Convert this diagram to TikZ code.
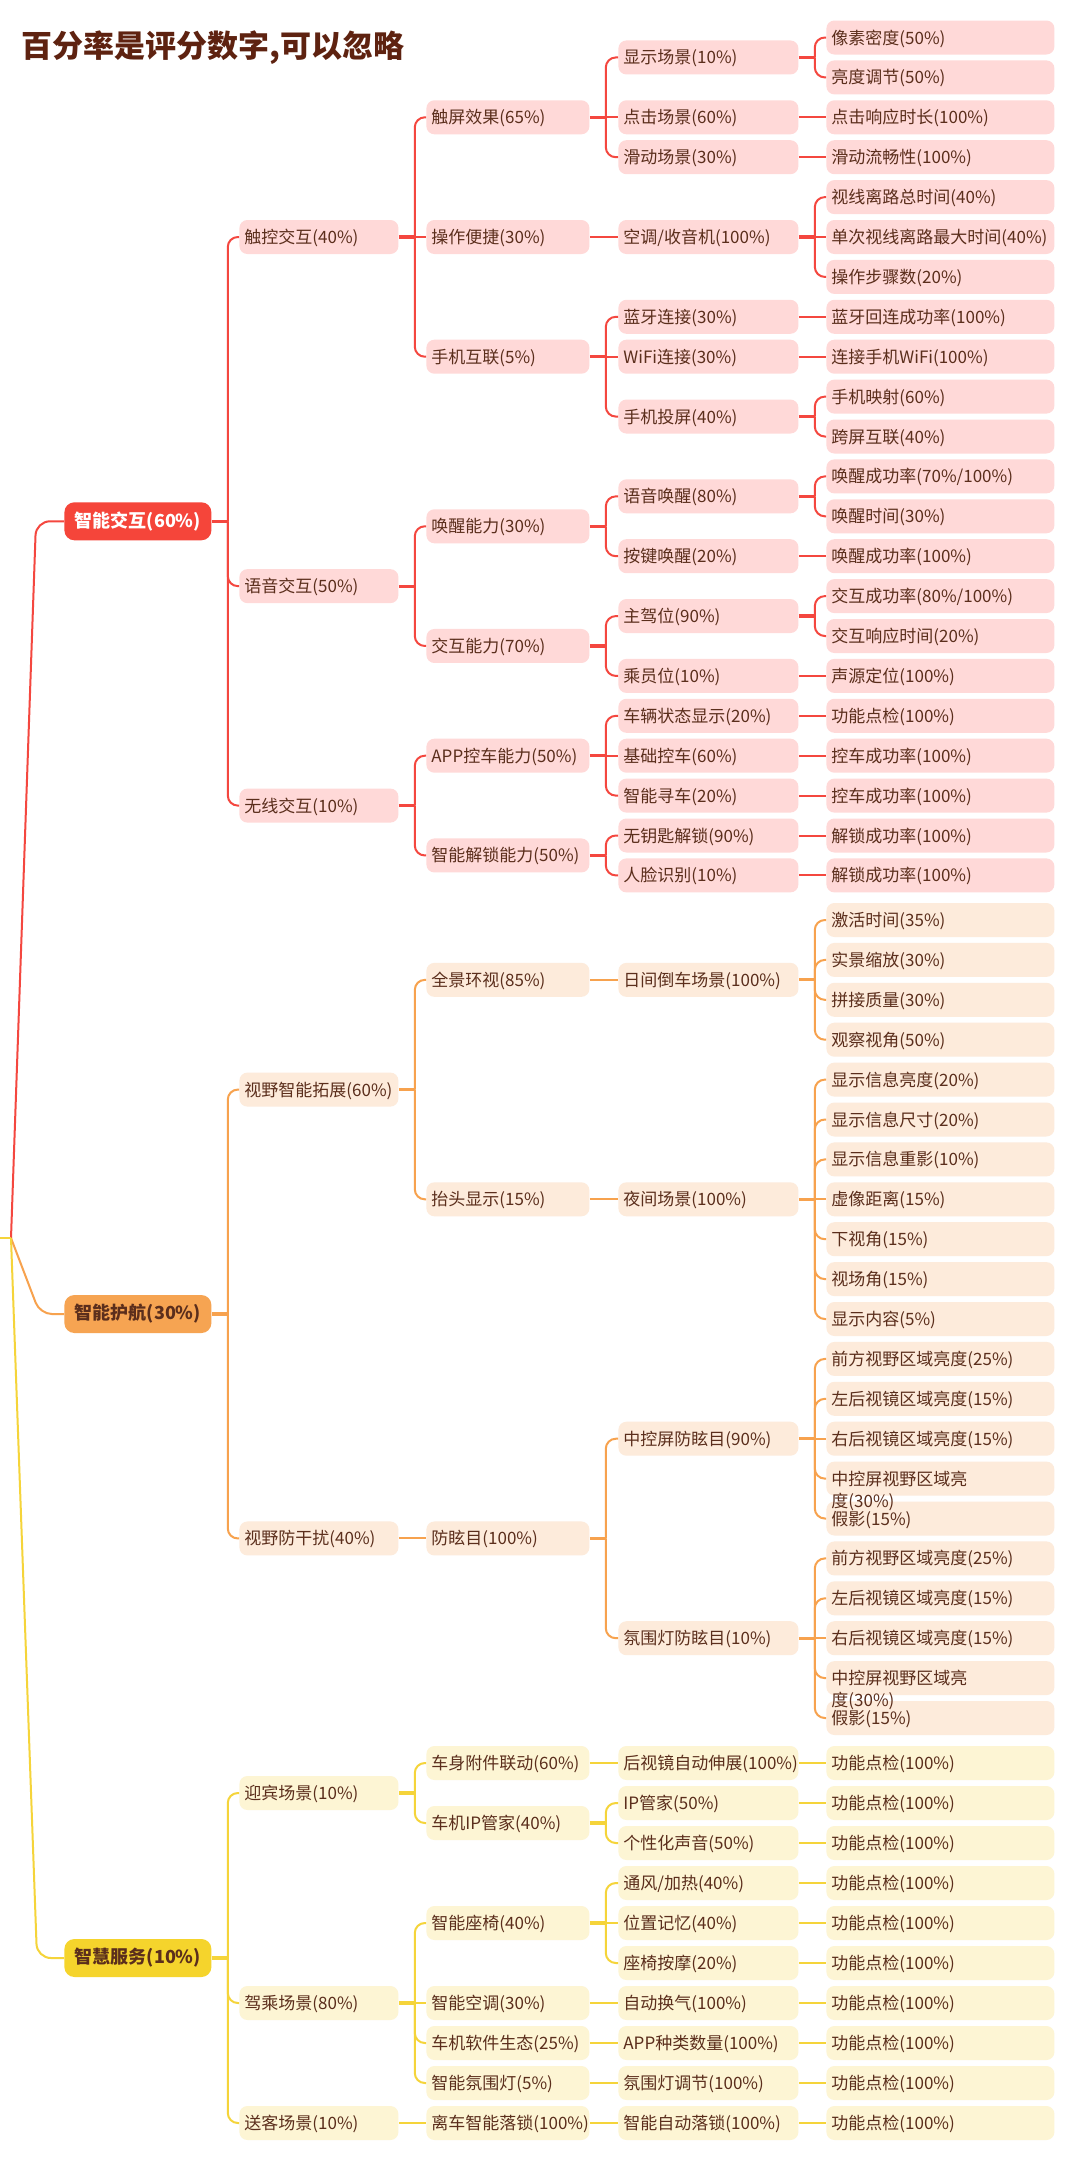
\documentclass[tikz,border=0pt]{standalone}
\usepackage{fontspec}
\setmainfont{Noto Sans CJK SC}
\definecolor{redD}{HTML}{F5453A}
\definecolor{redL}{HTML}{FFD9D8}
\definecolor{orgD}{HTML}{F6A452}
\definecolor{orgL}{HTML}{FDEBDB}
\definecolor{yelD}{HTML}{F5D42C}
\definecolor{yelL}{HTML}{FDF5D4}
\definecolor{lineR}{HTML}{F4473F}
\definecolor{lineO}{HTML}{F7A24E}
\definecolor{lineY}{HTML}{F5D43A}
\definecolor{txt}{HTML}{5B2E1C}
\definecolor{titleC}{HTML}{5E2210}
\newcommand\RowR[1]{37.5+39.9*#1}
\newcommand\RowO[1]{920+39.9*#1}
\newcommand\RowY[1]{1763+40*#1}
\newcommand\mmfan[3]{%
  \draw[#1, line width=1.6pt] (#2.east) -- ++(16,0) coordinate (#2sp);
  \foreach \kid in {#3}{\draw[#1, rounded corners=5pt] (#2sp) |- (\kid.west);}%
}
\newcommand\mmfanB[4]{\mmfan{#1}{#2}{#3}\draw[#1] (#2sp) -- (#4.west);}
\newcommand\mmlink[3]{\draw[#1] (#2.east) -- (#3.west);}
\begin{document}
\begin{tikzpicture}[x=0.5pt,y=-0.5pt,
  bx/.style={rectangle, rounded corners=4pt, anchor=west, inner xsep=2.5pt, inner ysep=0pt,
    minimum height=17pt, align=left, text height=7.5pt, text depth=1pt,
    font=\fontsize{8.5}{11}\selectfont, text=txt},
  wtwo/.style={bx, text width=74.5pt},
  wthree/.style={bx, text width=76.5pt},
  wfour/.style={bx, text width=85pt},
  wfive/.style={bx, text width=109pt},
  fR/.style={fill=redL}, fO/.style={fill=orgL}, fY/.style={fill=yelL},
  lvlone/.style={rectangle, rounded corners=5pt, anchor=west, minimum width=73.5pt,
    minimum height=19pt, inner sep=0pt, font=\fontsize{9}{11}\selectfont\bfseries},
  cR/.style={draw=lineR, line width=1pt},
  cO/.style={draw=lineO, line width=1pt},
  cY/.style={draw=lineY, line width=1pt}]
\fill[white] (0,0) rectangle (1080,2159);
\useasboundingbox (0,0) rectangle (1080,2159);

\node[anchor=west, inner sep=0pt, font=\fontsize{15.5}{19}\selectfont\bfseries, text=titleC] (title) at (21,48) {百分率是评分数字,可以忽略};

% ================= red branch =================
\node[lvlone, fill=redD, text=white] (a) at (64,{\RowR{12.125}}) {智能交互(60\%)};
\node[wtwo,fR] (a1) at (239,{\RowR{5}}) {触控交互(40\%)};
\node[wtwo,fR] (a2) at (239,{\RowR{13.75}}) {语音交互(50\%)};
\node[wtwo,fR] (a3) at (239,{\RowR{19.25}}) {无线交互(10\%)};
\node[wthree,fR] (a11) at (426,{\RowR{2}}) {触屏效果(65\%)};
\node[wthree,fR] (a12) at (426,{\RowR{5}}) {操作便捷(30\%)};
\node[wthree,fR] (a13) at (426,{\RowR{8}}) {手机互联(5\%)};
\node[wthree,fR] (a21) at (426,{\RowR{12.25}}) {唤醒能力(30\%)};
\node[wthree,fR] (a22) at (426,{\RowR{15.25}}) {交互能力(70\%)};
\node[wthree,fR] (a31) at (426,{\RowR{18}}) {APP控车能力(50\%)};
\node[wthree,fR] (a32) at (426,{\RowR{20.5}}) {智能解锁能力(50\%)};
\node[wfour,fR] (a111) at (618,{\RowR{0.5}}) {显示场景(10\%)};
\node[wfour,fR] (a112) at (618,{\RowR{2}}) {点击场景(60\%)};
\node[wfour,fR] (a113) at (618,{\RowR{3}}) {滑动场景(30\%)};
\node[wfour,fR] (a121) at (618,{\RowR{5}}) {空调/收音机(100\%)};
\node[wfour,fR] (a131) at (618,{\RowR{7}}) {蓝牙连接(30\%)};
\node[wfour,fR] (a132) at (618,{\RowR{8}}) {WiFi连接(30\%)};
\node[wfour,fR] (a133) at (618,{\RowR{9.5}}) {手机投屏(40\%)};
\node[wfour,fR] (a211) at (618,{\RowR{11.5}}) {语音唤醒(80\%)};
\node[wfour,fR] (a212) at (618,{\RowR{13}}) {按键唤醒(20\%)};
\node[wfour,fR] (a221) at (618,{\RowR{14.5}}) {主驾位(90\%)};
\node[wfour,fR] (a222) at (618,{\RowR{16}}) {乘员位(10\%)};
\node[wfour,fR] (a311) at (618,{\RowR{17}}) {车辆状态显示(20\%)};
\node[wfour,fR] (a312) at (618,{\RowR{18}}) {基础控车(60\%)};
\node[wfour,fR] (a313) at (618,{\RowR{19}}) {智能寻车(20\%)};
\node[wfour,fR] (a321) at (618,{\RowR{20}}) {无钥匙解锁(90\%)};
\node[wfour,fR] (a322) at (618,{\RowR{21}}) {人脸识别(10\%)};
\node[wfive,fR] (l0) at (826,{\RowR{0}}) {像素密度(50\%)};
\node[wfive,fR] (l1) at (826,{\RowR{1}}) {亮度调节(50\%)};
\node[wfive,fR] (l2) at (826,{\RowR{2}}) {点击响应时长(100\%)};
\node[wfive,fR] (l3) at (826,{\RowR{3}}) {滑动流畅性(100\%)};
\node[wfive,fR] (l4) at (826,{\RowR{4}}) {视线离路总时间(40\%)};
\node[wfive,fR] (l5) at (826,{\RowR{5}}) {单次视线离路最大时间(40\%)};
\node[wfive,fR] (l6) at (826,{\RowR{6}}) {操作步骤数(20\%)};
\node[wfive,fR] (l7) at (826,{\RowR{7}}) {蓝牙回连成功率(100\%)};
\node[wfive,fR] (l8) at (826,{\RowR{8}}) {连接手机WiFi(100\%)};
\node[wfive,fR] (l9) at (826,{\RowR{9}}) {手机映射(60\%)};
\node[wfive,fR] (l10) at (826,{\RowR{10}}) {跨屏互联(40\%)};
\node[wfive,fR] (l11) at (826,{\RowR{11}}) {唤醒成功率(70\%/100\%)};
\node[wfive,fR] (l12) at (826,{\RowR{12}}) {唤醒时间(30\%)};
\node[wfive,fR] (l13) at (826,{\RowR{13}}) {唤醒成功率(100\%)};
\node[wfive,fR] (l14) at (826,{\RowR{14}}) {交互成功率(80\%/100\%)};
\node[wfive,fR] (l15) at (826,{\RowR{15}}) {交互响应时间(20\%)};
\node[wfive,fR] (l16) at (826,{\RowR{16}}) {声源定位(100\%)};
\node[wfive,fR] (l17) at (826,{\RowR{17}}) {功能点检(100\%)};
\node[wfive,fR] (l18) at (826,{\RowR{18}}) {控车成功率(100\%)};
\node[wfive,fR] (l19) at (826,{\RowR{19}}) {控车成功率(100\%)};
\node[wfive,fR] (l20) at (826,{\RowR{20}}) {解锁成功率(100\%)};
\node[wfive,fR] (l21) at (826,{\RowR{21}}) {解锁成功率(100\%)};

\mmfan{cR}{a}{a1,a2,a3}
\mmfanB{cR}{a1}{a11,a13}{a12}
\mmfanB{cR}{a11}{a111,a113}{a112}
\mmfan{cR}{a111}{l0,l1}
\mmlink{cR}{a112}{l2}
\mmlink{cR}{a113}{l3}
\mmlink{cR}{a12}{a121}
\mmfanB{cR}{a121}{l4,l6}{l5}
\mmfanB{cR}{a13}{a131,a133}{a132}
\mmlink{cR}{a131}{l7}
\mmlink{cR}{a132}{l8}
\mmfan{cR}{a133}{l9,l10}
\mmfan{cR}{a2}{a21,a22}
\mmfan{cR}{a21}{a211,a212}
\mmfan{cR}{a211}{l11,l12}
\mmlink{cR}{a212}{l13}
\mmfan{cR}{a22}{a221,a222}
\mmfan{cR}{a221}{l14,l15}
\mmlink{cR}{a222}{l16}
\mmfan{cR}{a3}{a31,a32}
\mmfanB{cR}{a31}{a311,a313}{a312}
\mmlink{cR}{a311}{l17}
\mmlink{cR}{a312}{l18}
\mmlink{cR}{a313}{l19}
\mmfan{cR}{a32}{a321,a322}
\mmlink{cR}{a321}{l20}
\mmlink{cR}{a322}{l21}

% ================= orange branch =================
\node[lvlone, fill=orgD, text=txt] (b) at (64,{\RowO{9.875}}) {智能护航(30\%)};
\node[wtwo,fO] (b1) at (239,{\RowO{4.25}}) {视野智能拓展(60\%)};
\node[wtwo,fO] (b2) at (239,{\RowO{15.5}}) {视野防干扰(40\%)};
\node[wthree,fO] (b11) at (426,{\RowO{1.5}}) {全景环视(85\%)};
\node[wthree,fO] (b12) at (426,{\RowO{7}}) {抬头显示(15\%)};
\node[wthree,fO] (b21) at (426,{\RowO{15.5}}) {防眩目(100\%)};
\node[wfour,fO] (b111) at (618,{\RowO{1.5}}) {日间倒车场景(100\%)};
\node[wfour,fO] (b121) at (618,{\RowO{7}}) {夜间场景(100\%)};
\node[wfour,fO] (b211) at (618,{\RowO{13}}) {中控屏防眩目(90\%)};
\node[wfour,fO] (b212) at (618,{\RowO{18}}) {氛围灯防眩目(10\%)};
\node[wfive,fO] (m0) at (826,{\RowO{0}}) {激活时间(35\%)};
\node[wfive,fO] (m1) at (826,{\RowO{1}}) {实景缩放(30\%)};
\node[wfive,fO] (m2) at (826,{\RowO{2}}) {拼接质量(30\%)};
\node[wfive,fO] (m3) at (826,{\RowO{3}}) {观察视角(50\%)};
\node[wfive,fO] (m4) at (826,{\RowO{4}}) {显示信息亮度(20\%)};
\node[wfive,fO] (m5) at (826,{\RowO{5}}) {显示信息尺寸(20\%)};
\node[wfive,fO] (m6) at (826,{\RowO{6}}) {显示信息重影(10\%)};
\node[wfive,fO] (m7) at (826,{\RowO{7}}) {虚像距离(15\%)};
\node[wfive,fO] (m8) at (826,{\RowO{8}}) {下视角(15\%)};
\node[wfive,fO] (m9) at (826,{\RowO{9}}) {视场角(15\%)};
\node[wfive,fO] (m10) at (826,{\RowO{10}}) {显示内容(5\%)};
\node[wfive,fO] (m11) at (826,{\RowO{11}}) {前方视野区域亮度(25\%)};
\node[wfive,fO] (m12) at (826,{\RowO{12}}) {左后视镜区域亮度(15\%)};
\node[wfive,fO] (m13) at (826,{\RowO{13}}) {右后视镜区域亮度(15\%)};
\node[wfive,fO] (m15) at (826,{\RowO{15}}) {假影(15\%)};
\node[wfive,fO] (m14) at (826,{\RowO{14}}) {中控屏视野区域亮\\度(30\%)};
\node[wfive,fO] (m16) at (826,{\RowO{16}}) {前方视野区域亮度(25\%)};
\node[wfive,fO] (m17) at (826,{\RowO{17}}) {左后视镜区域亮度(15\%)};
\node[wfive,fO] (m18) at (826,{\RowO{18}}) {右后视镜区域亮度(15\%)};
\node[wfive,fO] (m20) at (826,{\RowO{20}}) {假影(15\%)};
\node[wfive,fO] (m19) at (826,{\RowO{19}}) {中控屏视野区域亮\\度(30\%)};

\mmfan{cO}{b}{b1,b2}
\mmfan{cO}{b1}{b11,b12}
\mmlink{cO}{b11}{b111}
\mmfan{cO}{b111}{m0,m1,m2,m3}
\mmlink{cO}{b12}{b121}
\mmfanB{cO}{b121}{m4,m5,m6,m8,m9,m10}{m7}
\mmlink{cO}{b2}{b21}
\mmfan{cO}{b21}{b211,b212}
\mmfanB{cO}{b211}{m11,m12,m14,m15}{m13}
\mmfanB{cO}{b212}{m16,m17,m19,m20}{m18}

% ================= yellow branch =================
\node[lvlone, fill=yelD, text=txt] (c) at (64,{\RowY{4.875}}) {智慧服务(10\%)};
\node[wtwo,fY] (c1) at (239,{\RowY{0.75}}) {迎宾场景(10\%)};
\node[wtwo,fY] (c2) at (239,{\RowY{6}}) {驾乘场景(80\%)};
\node[wtwo,fY] (c3) at (239,{\RowY{9}}) {送客场景(10\%)};
\node[wthree,fY] (c11) at (426,{\RowY{0}}) {车身附件联动(60\%)};
\node[wthree,fY] (c12) at (426,{\RowY{1.5}}) {车机IP管家(40\%)};
\node[wthree,fY] (c21) at (426,{\RowY{4}}) {智能座椅(40\%)};
\node[wthree,fY] (c22) at (426,{\RowY{6}}) {智能空调(30\%)};
\node[wthree,fY] (c23) at (426,{\RowY{7}}) {车机软件生态(25\%)};
\node[wthree,fY] (c24) at (426,{\RowY{8}}) {智能氛围灯(5\%)};
\node[wthree,fY] (c31) at (426,{\RowY{9}}) {离车智能落锁(100\%)};
\node[wfour,fY] (c111) at (618,{\RowY{0}}) {后视镜自动伸展(100\%)};
\node[wfour,fY] (c121) at (618,{\RowY{1}}) {IP管家(50\%)};
\node[wfour,fY] (c122) at (618,{\RowY{2}}) {个性化声音(50\%)};
\node[wfour,fY] (c211) at (618,{\RowY{3}}) {通风/加热(40\%)};
\node[wfour,fY] (c212) at (618,{\RowY{4}}) {位置记忆(40\%)};
\node[wfour,fY] (c213) at (618,{\RowY{5}}) {座椅按摩(20\%)};
\node[wfour,fY] (c221) at (618,{\RowY{6}}) {自动换气(100\%)};
\node[wfour,fY] (c231) at (618,{\RowY{7}}) {APP种类数量(100\%)};
\node[wfour,fY] (c241) at (618,{\RowY{8}}) {氛围灯调节(100\%)};
\node[wfour,fY] (c311) at (618,{\RowY{9}}) {智能自动落锁(100\%)};
\foreach \k in {0,...,9}{\node[wfive,fY] (n\k) at (826,{\RowY{\k}}) {功能点检(100\%)};}

\mmfan{cY}{c}{c1,c2,c3}
\mmfan{cY}{c1}{c11,c12}
\mmlink{cY}{c11}{c111}
\mmlink{cY}{c111}{n0}
\mmfan{cY}{c12}{c121,c122}
\mmlink{cY}{c121}{n1}
\mmlink{cY}{c122}{n2}
\mmfanB{cY}{c2}{c21,c23,c24}{c22}
\mmfanB{cY}{c21}{c211,c213}{c212}
\mmlink{cY}{c211}{n3}
\mmlink{cY}{c212}{n4}
\mmlink{cY}{c213}{n5}
\mmlink{cY}{c22}{c221}
\mmlink{cY}{c221}{n6}
\mmlink{cY}{c23}{c231}
\mmlink{cY}{c231}{n7}
\mmlink{cY}{c24}{c241}
\mmlink{cY}{c241}{n8}
\mmlink{cY}{c3}{c31}
\mmlink{cY}{c31}{c311}
\mmlink{cY}{c311}{n9}

% ================= root =================
\coordinate (root) at (11,1238);
\coordinate (rootL) at (0,1238);
\draw[cR, rounded corners=7pt] (root) -- ([xshift=-14pt]a.west) -- (a.west);
\draw[cO, rounded corners=6pt] (root) -- ([xshift=-12pt]b.west) -- (b.west);
\draw[cY, rounded corners=7pt] (root) -- ([xshift=-13.5pt]c.west) -- (c.west);
\draw[cY] (rootL) -- (root);
\end{tikzpicture}
\end{document}
